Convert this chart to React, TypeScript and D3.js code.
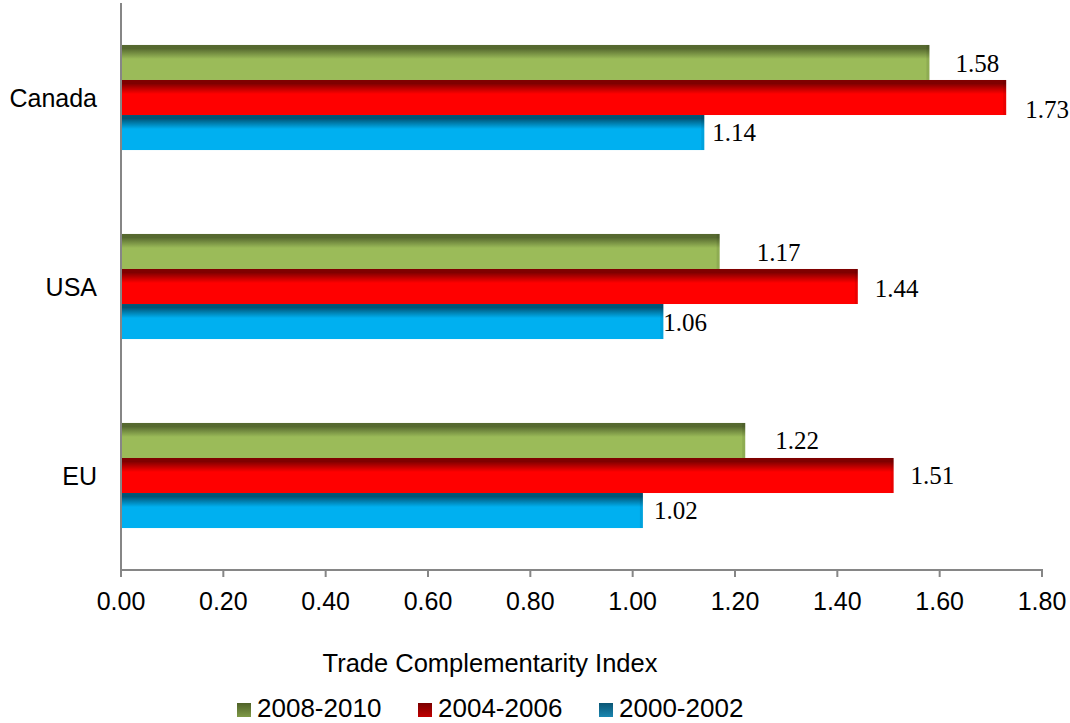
import React from "react";
import * as d3 from "d3";

const categories = ["Canada", "USA", "EU"];
const seriesNames = ["2008-2010", "2004-2006", "2000-2002"];
const values2008 = [1.58, 1.17, 1.22];
const values2004 = [1.73, 1.44, 1.51];
const values2000 = [1.14, 1.06, 1.02];
const xTicks = [0, 0.2, 0.4, 0.6, 0.8, 1.0, 1.2, 1.4, 1.6, 1.8];
const axisTitle = "Trade Complementarity Index";

// layout / style constants
const W = 1070;
const H = 723;
const M = { left: 121, right: 1042, top: 3, bottom: 570 };
const barColors = [
  { dark: "#56692f", base: "#9bbb59", legendTop: "#7f9a48", legendBot: "#4f6228" },
  { dark: "#7f0000", base: "#ff0000", legendTop: "#c00000", legendBot: "#7a0000" },
  { dark: "#005577", base: "#00b0f0", legendTop: "#1a86b0", legendBot: "#0b5675" },
];
// label nudges (dx from bar end, dy from bar center) per category × series
const labelNudge = [
  [[26, 1.5], [19, 12.5], [8, 0.5]],
  [[37, 1.5], [17, 2], [0, 1.5]],
  [[30, 0.5], [17, 0.5], [11, 0.5]],
];

export default function App() {
  const seriesValues = [values2008, values2004, values2000];
  const x = d3.scaleLinear().domain([0, 1.8]).range([M.left, M.right]);
  const y = d3
    .scaleBand<string>()
    .domain(categories)
    .range([M.top, M.bottom])
    .paddingInner(0.444)
    .paddingOuter(0.222);
  const ys = d3.scaleBand<string>().domain(seriesNames).range([0, y.bandwidth()]);
  const axisColor = "#868686";
  const sans = "Arial, 'Liberation Sans', sans-serif";
  const serif = "'Times New Roman', 'Liberation Serif', serif";
  const fs = 25;
  const labelFs = 25;

  const legendX = [237, 418, 599];

  return (
    <svg
      width={W}
      height={H}
      style={{ position: "absolute", left: 0, top: 0, background: "#fff" }}
    >
      <defs>
        {barColors.map((c, i) => (
          <linearGradient key={i} id={`bar${i}`} x1="0" y1="0" x2="0" y2="1">
            <stop offset="0" stopColor={c.dark} />
            <stop offset="0.1" stopColor={c.dark} />
            <stop offset="0.4" stopColor={c.base} />
            <stop offset="1" stopColor={c.base} />
          </linearGradient>
        ))}
        {barColors.map((c, i) => (
          <linearGradient key={i} id={`leg${i}`} x1="0" y1="0" x2="0" y2="1">
            <stop offset="0" stopColor={c.legendBot} />
            <stop offset="1" stopColor={c.legendTop} />
          </linearGradient>
        ))}
      </defs>

      {/* bars */}
      {categories.map((cat, ci) =>
        seriesNames.map((s, si) => {
          const v = seriesValues[si][ci];
          const y0 = (y(cat) as number) + (ys(s) as number);
          const h = ys.bandwidth();
          const x1 = x(v);
          return (
            <g key={`${cat}-${s}`}>
              <rect x={x(0)} y={y0} width={x1 - x(0)} height={h} fill={`url(#bar${si})`} />
              <rect x={x1 - 3} y={y0} width={3} height={h} fill="#000" opacity={0.08} />
              <text
                x={x1 + labelNudge[ci][si][0]}
                y={y0 + h / 2 + labelNudge[ci][si][1] + labelFs * 0.33}
                fontFamily={serif}
                fontSize={labelFs}
                fill="#000"
              >
                {v.toFixed(2)}
              </text>
            </g>
          );
        })
      )}

      {/* y axis */}
      <line x1={M.left} x2={M.left} y1={M.top} y2={M.bottom} stroke={axisColor} strokeWidth={2} />
      {categories.map((cat) => (
        <text
          key={cat}
          x={97}
          y={(y(cat) as number) + y.bandwidth() / 2 + fs * 0.36}
          textAnchor="end"
          fontFamily={sans}
          fontSize={fs}
          fill="#000"
        >
          {cat}
        </text>
      ))}

      {/* x axis */}
      <line x1={M.left - 1} x2={M.right + 1} y1={M.bottom} y2={M.bottom} stroke={axisColor} strokeWidth={2} />
      {xTicks.map((t) => (
        <g key={t}>
          <line x1={x(t)} x2={x(t)} y1={M.bottom} y2={M.bottom + 7} stroke={axisColor} strokeWidth={2} />
          <text
            x={x(t)}
            y={610}
            textAnchor="middle"
            fontFamily={sans}
            fontSize={fs}
            fill="#000"
          >
            {t.toFixed(2)}
          </text>
        </g>
      ))}
      <text x={490} y={672} textAnchor="middle" fontFamily={sans} fontSize={25.5} fill="#000">
        {axisTitle}
      </text>

      {/* legend */}
      {seriesNames.map((s, i) => (
        <g key={s}>
          <rect x={legendX[i]} y={703} width={14} height={14} fill={`url(#leg${i})`} />
          <text x={legendX[i] + 20} y={716.5} fontFamily={sans} fontSize={26} fill="#000">
            {s}
          </text>
        </g>
      ))}
    </svg>
  );
}
